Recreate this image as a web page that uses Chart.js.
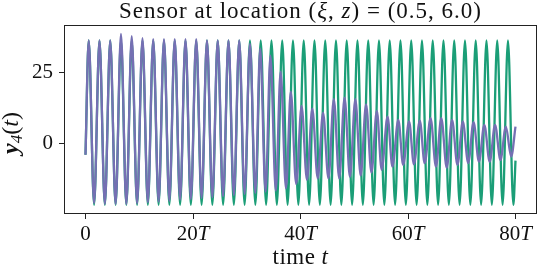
<!DOCTYPE html>
<html>
<head>
<meta charset="utf-8">
<script src="https://cdn.jsdelivr.net/npm/chart.js@4"></script>
<style>
  html, body { margin: 0; padding: 0; background: #fff; }
</style>
</head>
<body>
<canvas id="sensor" width="550" height="270"></canvas>
<script>
// green: reference signal, peaks/troughs
let tGreen = [0,
  0.6, 1.6, 2.6, 3.6, 4.6, 5.6, 6.6, 7.6, 8.6, 9.6,
  10.6, 11.6, 12.6, 13.6, 14.6, 15.6, 16.6, 17.6, 18.6, 19.6,
  20.6, 21.6, 22.6, 23.6, 24.6, 25.6, 26.6, 27.6, 28.6, 29.6,
  30.6, 31.6, 32.6, 33.6, 34.6, 35.6, 36.6, 37.6, 38.6, 39.6,
  40.6, 41.6, 42.6, 43.6, 44.6, 45.6, 46.6, 47.6, 48.6, 49.6,
  50.6, 51.6, 52.6, 53.6, 54.6, 55.6, 56.6, 57.6, 58.6, 59.6,
  60.6, 61.6, 62.6, 63.6, 64.6, 65.6, 66.6, 67.6, 68.6, 69.6,
  70.6, 71.6, 72.6, 73.6, 74.6, 75.6, 76.6, 77.6, 78.6, 79.6,
  80];
let yGreen = [-3.8,
  36.0, -21.2, 36.0, -21.2, 36.0, -21.2, 36.0, -21.2, 36.0, -21.2,
  36.0, -21.2, 36.0, -21.2, 36.0, -21.2, 36.0, -21.2, 36.0, -21.2,
  36.0, -21.2, 36.0, -21.2, 36.0, -21.2, 36.0, -21.2, 36.0, -21.2,
  36.0, -21.2, 36.0, -21.2, 36.0, -21.2, 36.0, -21.2, 36.0, -21.2,
  36.0, -21.2, 36.0, -21.2, 36.0, -21.2, 36.0, -21.2, 36.0, -21.2,
  36.0, -21.2, 36.0, -21.2, 36.0, -21.2, 36.0, -21.2, 36.0, -21.2,
  36.0, -21.2, 36.0, -21.2, 36.0, -21.2, 36.0, -21.2, 36.0, -21.2,
  36.0, -21.2, 36.0, -21.2, 36.0, -21.2, 36.0, -21.2, 36.0, -21.2,
  -5.8];

// purple: sensor signal, decays after ~30T
let tPurple = [0,
  0.6, 1.6, 2.6, 3.6, 4.6, 5.6, 6.6, 7.6, 8.6, 9.6,
  10.6, 11.6, 12.6, 13.6, 14.6, 15.6, 16.6, 17.6, 18.6, 19.6,
  20.6, 21.6, 22.6, 23.6, 24.6, 25.6, 26.6, 27.6, 28.6, 29.6,
  30.6, 31.6, 32.5, 33.5, 34.4, 35.4, 36.3, 37.3, 38.2, 39.2,
  40.2, 41.2, 42.2, 43.2, 44.2, 45.2, 46.2, 47.2, 48.2, 49.2,
  50.2, 51.2, 52.2, 53.2, 54.2, 55.1, 56.2, 57.1, 58.2, 59.1,
  60.2, 61.1, 62.2, 63.1, 64.2, 65.2, 66.2, 67.2, 68.2, 69.2,
  70.2, 71.2, 72.2, 73.2, 74.2, 75.2, 76.2, 77.2, 78.2, 79.2,
  80];
let yPurple = [-3.8,
  36.0, -20.6, 36.0, -20.9, 36.0, -20.9, 38.3, -20.9, 37.5, -20.7,
  36.8, -20.3, 36.5, -20.1, 36.5, -19.8, 36.5, -19.4, 36.5, -19.2,
  36.5, -18.8, 36.0, -18.6, 36.0, -18.2, 36.0, -17.8, 36.0, -17.4,
  34.8, -17.0, 33.2, -16.6, 30.7, -16.2, 25.2, -15.5, 18.2, -14.0,
  13.2, -12.5, 12.3, -12.0, 10.9, -12.0, 15.6, -12.0, 16.1, -11.5,
  15.6, -11.0, 13.8, -10.0, 11.5, -9.0, 9.5, -7.9, 8.4, -7.3,
  7.8, -7.1, 8.1, -6.7, 9.0, -7.9, 9.0, -8.3, 8.4, -7.3,
  7.8, -6.7, 7.6, -6.2, 6.6, -6.2, 6.6, -5.6, 6.0, -4.4,
  6.0];

let xTicks = [0, 20, 40, 60, 80];
let yTicks = [0, 25];

const serif = '"Liberation Serif", "DejaVu Serif", serif';

function fontFor(p, size) {
  return (p.it ? 'italic ' : '') + (p.b ? 'bold ' : '') + Math.round(size * (p.s || 1)) + 'px ' + serif;
}

// draws a line of mixed upright/italic text centred on x
function richText(ctx, parts, x, y, size, spacing) {
  ctx.letterSpacing = (spacing || 0) + 'px';
  const widths = parts.map(p => { ctx.font = fontFor(p, size); return ctx.measureText(p.t).width; });
  let cx = x - widths.reduce((a, b) => a + b, 0) / 2;
  parts.forEach((p, i) => {
    ctx.font = fontFor(p, size);
    ctx.fillText(p.t, cx, y + (p.dy || 0));
    cx += widths[i];
  });
  ctx.letterSpacing = '0px';
}

const decor = {
  id: 'decor',
  afterDraw(chart) {
    const ctx = chart.ctx;
    const a = chart.chartArea;
    const xs = chart.scales.x;
    ctx.save();
    ctx.fillStyle = '#111';
    ctx.textAlign = 'left';
    ctx.textBaseline = 'alphabetic';

    // frame
    ctx.strokeStyle = '#222';
    ctx.lineWidth = 1;
    ctx.strokeRect(Math.round(a.left) + 0.5, Math.round(a.top) + 0.5,
      Math.round(a.right - a.left) - 1, Math.round(a.bottom - a.top) - 1);

    const midX = (a.left + a.right) / 2;

    // title
    richText(ctx, [
      { t: 'Sensor at location (' }, { t: 'ξ', it: 1 }, { t: ', ' },
      { t: 'z', it: 1 }, { t: ') = (0.5, 6.0)' }
    ], midX, 18, 23, 1);

    // x tick labels with italic T
    xTicks.forEach(v => {
      const px = xs.getPixelForValue(v);
      const parts = v === 0 ? [{ t: '0' }] : [{ t: String(v) }, { t: 'T', it: 1 }];
      richText(ctx, parts, px, 240, 21);
    });

    // x title
    richText(ctx, [{ t: 'time ' }, { t: 't', it: 1 }], midX, 264, 23, 0.5);

    // y title, rotated
    ctx.translate(18, 133);
    ctx.rotate(-Math.PI / 2);
    richText(ctx, [
      { t: 'y', it: 1, b: 1 }, { t: '4', it: 1, s: 0.7, dy: 4 },
      { t: '(' }, { t: 't', it: 1 }, { t: ')' }
    ], 0, 0, 24);
    ctx.restore();
  }
};

const gridOpts = {
  drawOnChartArea: false,
  drawTicks: true,
  tickLength: 5,
  color: '#222',
  tickColor: '#222',
  lineWidth: 1
};

const sc = document.getElementById('sensor').getContext('2d');
const sensorChart = new Chart(sc, {
  type: 'line',
  data: {
    datasets: [
      {
        label: 'sensor',
        data: tPurple.map((t, i) => ({ x: t, y: yPurple[i] })),
        borderColor: '#7570b3',
        borderWidth: 2.3,
        pointRadius: 0,
        fill: false,
        cubicInterpolationMode: 'monotone'
      },
      {
        label: 'reference',
        data: tGreen.map((t, i) => ({ x: t, y: yGreen[i] })),
        borderColor: '#1b9e77',
        borderWidth: 2.3,
        pointRadius: 0,
        fill: false,
        cubicInterpolationMode: 'monotone'
      }
    ]
  },
  options: {
    responsive: false,
    animation: false,
    devicePixelRatio: 1,
    layout: { padding: { top: 25, right: 13, left: 0, bottom: 0 } },
    plugins: {
      legend: { display: false },
      tooltip: { enabled: false }
    },
    scales: {
      x: {
        type: 'linear',
        min: -4,
        max: 84,
        afterBuildTicks: s => { s.ticks = xTicks.map(v => ({ value: v })); },
        afterFit: s => { s.height = 56; },
        ticks: { display: false },
        grid: gridOpts,
        border: { display: false }
      },
      y: {
        min: -24.4,
        max: 41.4,
        afterBuildTicks: s => { s.ticks = yTicks.map(v => ({ value: v })); },
        afterFit: s => { s.width = 64; },
        ticks: {
          font: { family: serif, size: 21 },
          color: '#111',
          padding: 6
        },
        grid: gridOpts,
        border: { display: false }
      }
    }
  },
  plugins: [decor]
});
</script>
</body>
</html>
